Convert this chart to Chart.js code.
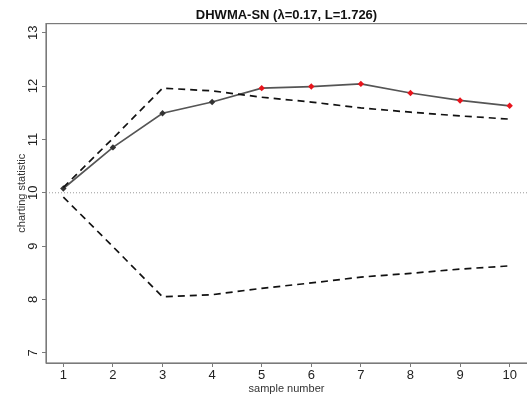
<!DOCTYPE html>
<html>
<head>
<meta charset="utf-8">
<script src="https://cdn.jsdelivr.net/npm/chart.js@4/dist/chart.umd.min.js"></script>
<style>
  body { margin: 0; background: #fff; }
  #wrap { width: 527px; height: 398px; }
</style>
</head>
<body>
<div id="wrap"><canvas id="chart" width="527" height="398"></canvas></div>
<script>
// sample numbers on the x axis
const samples = [1, 2, 3, 4, 5, 6, 7, 8, 9, 10];
// charting statistic (DHWMA-SN)
const statistic = [10.08, 10.85, 11.49, 11.70, 11.96, 11.99, 12.04, 11.87, 11.73, 11.63];
// control limits
const ucl = [10.10, 11.02, 11.96, 11.91, 11.79, 11.70, 11.59, 11.51, 11.44, 11.38];
const lcl = [9.92, 8.99, 8.05, 8.09, 8.21, 8.31, 8.42, 8.49, 8.57, 8.63];
const centerLine = 10;
// out-of-control flags (red markers)
const signal = [false, false, false, false, true, true, true, true, true, true];
const xTicks = [1, 2, 3, 4, 5, 6, 7, 8, 9, 10];
const yTicks = [7, 8, 9, 10, 11, 12, 13];

const FONT = "'Liberation Sans', Arial, sans-serif";
const AXIS_GREY = '#7a7a7a';

function pts(ys) {
    return samples.map((x, i) => ({ x: x, y: ys[i] }));
}

// box around the plot + dotted centre line
const framePlugin = {
    id: 'frame',
    beforeDatasetsDraw(chart) {
        let ctx = chart.ctx;
        let a = chart.chartArea;
        let yc = chart.scales.y.getPixelForValue(centerLine);
        ctx.save();
        ctx.strokeStyle = '#9a9a9a';
        ctx.lineWidth = 1;
        ctx.setLineDash([1, 2]);
        ctx.beginPath();
        ctx.moveTo(a.left, yc);
        ctx.lineTo(a.right, yc);
        ctx.stroke();
        ctx.restore();
    },
    afterDraw(chart) {
        let ctx = chart.ctx;
        let a = chart.chartArea;
        ctx.save();
        ctx.strokeStyle = AXIS_GREY;
        ctx.lineWidth = 1.2;
        ctx.strokeRect(a.left, a.top, a.right - a.left + 3, a.bottom - a.top);
        ctx.restore();
    }
};

let ctx = document.getElementById('chart').getContext('2d');

new Chart(ctx, {
    type: 'line',
    data: {
        datasets: [
            {
                label: 'UCL',
                data: pts(ucl),
                borderColor: '#111',
                borderWidth: 1.7,
                borderDash: [7, 5],
                pointRadius: 0,
                fill: false
            },
            {
                label: 'LCL',
                data: pts(lcl),
                borderColor: '#111',
                borderWidth: 1.7,
                borderDash: [7, 5],
                pointRadius: 0,
                fill: false
            },
            {
                label: 'DHWMA-SN',
                data: pts(statistic),
                borderColor: '#555',
                borderWidth: 1.7,
                pointStyle: 'rectRot',
                pointRadius: 3.2,
                pointBackgroundColor: signal.map(s => s ? '#e8141c' : '#333'),
                pointBorderColor: signal.map(s => s ? '#e8141c' : '#333'),
                pointBorderWidth: 0,
                fill: false
            }
        ]
    },
    options: {
        responsive: false,
        animation: false,
        layout: { padding: 0, autoPadding: false },
        plugins: {
            legend: { display: false },
            tooltip: { enabled: false },
            title: {
                display: true,
                fullSize: false,
                text: 'DHWMA-SN (\u03bb=0.17, L=1.726)',
                color: '#111',
                font: { family: FONT, size: 13, weight: 'bold' },
                padding: { top: 8, bottom: 0 }
            }
        },
        scales: {
            x: {
                type: 'linear',
                min: 0.65,
                max: 10.35,
                afterBuildTicks: s => { s.ticks = xTicks.map(v => ({ value: v })); },
                afterFit: s => { s.height = 35; s.paddingLeft = 0; s.paddingRight = 0; },
                grid: { drawOnChartArea: false, drawTicks: true, tickLength: 4, color: AXIS_GREY },
                border: { color: AXIS_GREY },
                ticks: {
                    color: '#222',
                    padding: 1,
                    maxRotation: 0,
                    font: { family: FONT, size: 13 }
                },
                title: {
                    display: true,
                    text: 'sample number',
                    color: '#333',
                    font: { family: FONT, size: 11 },
                    padding: { top: 0, bottom: 2 }
                }
            },
            y: {
                min: 6.81,
                max: 13.17,
                afterBuildTicks: s => { s.ticks = yTicks.map(v => ({ value: v })); },
                afterFit: s => { s.width = 46; },
                grid: { drawOnChartArea: false, drawTicks: true, tickLength: 4, color: AXIS_GREY },
                border: { color: AXIS_GREY },
                ticks: {
                    color: '#222',
                    padding: 1,
                    minRotation: 90,
                    maxRotation: 90,
                    crossAlign: 'center',
                    font: { family: FONT, size: 13 }
                },
                title: {
                    display: true,
                    text: 'charting statistic',
                    color: '#333',
                    font: { family: FONT, size: 11 },
                    padding: { top: 15, bottom: 0 }
                }
            }
        }
    },
    plugins: [framePlugin]
});
</script>
</body>
</html>
